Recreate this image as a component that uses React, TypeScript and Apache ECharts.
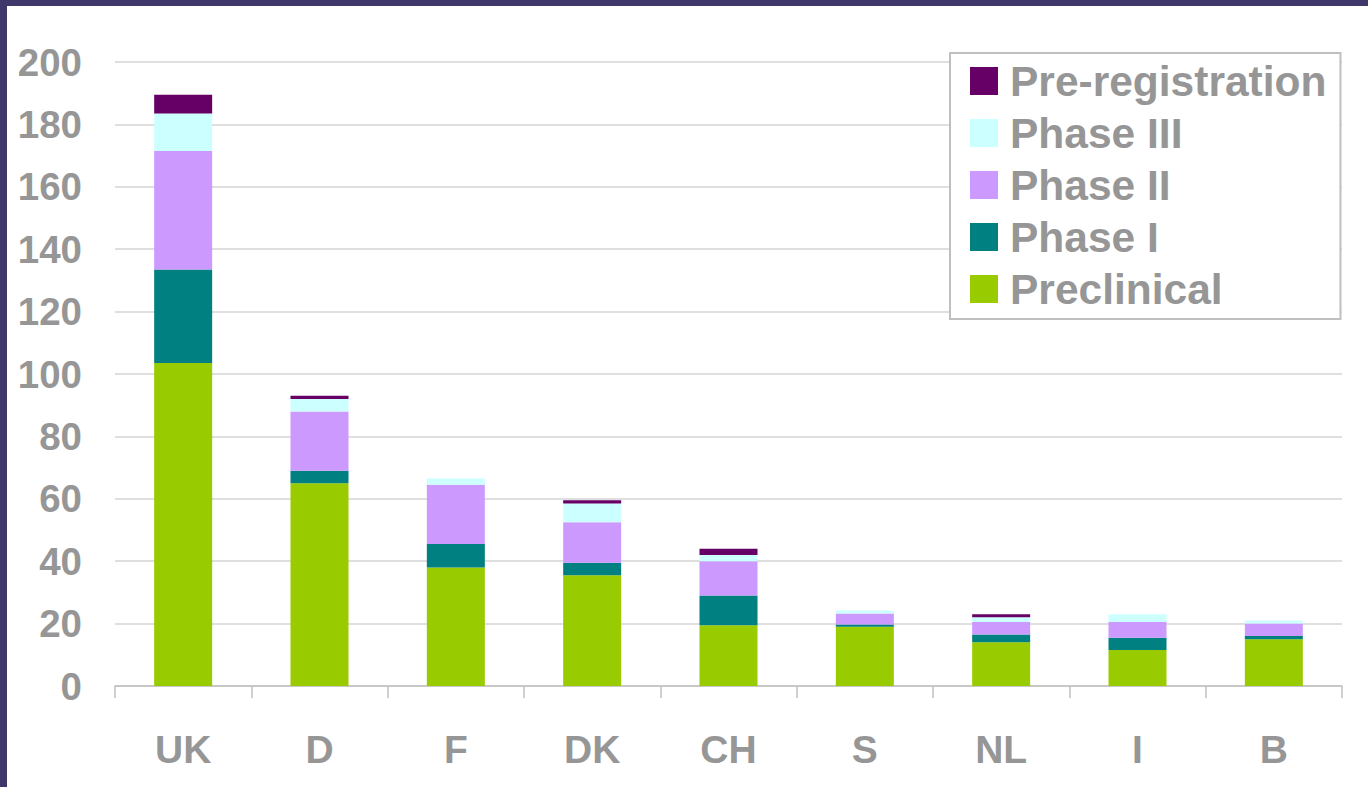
import React, { useEffect, useRef } from "react";
import * as echarts from "echarts";

const categories = ["UK", "D", "F", "DK", "CH", "S", "NL", "I", "B"];
const preclinical = [103.5, 65, 38, 35.5, 19.5, 19, 14, 11.5, 15];
const phaseI = [30, 4, 7.5, 4, 9.5, 0.7, 2.5, 4, 1];
const phaseII = [38, 19, 19, 13, 11, 3.5, 4, 5, 4];
const phaseIII = [12, 4, 2, 6, 2, 1, 1.5, 2.5, 1];
const preRegistration = [6, 1, 0, 1, 2, 0, 1, 0, 0];
const yTicks = { min: 0, max: 200, interval: 20 };

const FONT = "'Liberation Sans', Arial, sans-serif";
const GRAY = "#969696";

export default function App() {
  const ref = useRef<HTMLDivElement>(null);
  useEffect(() => {
    document.body.style.margin = "0";
    const chart = echarts.init(ref.current!, null, { renderer: "svg" });
    const mk = (name: string, data: number[], color: string) => ({
      name,
      type: "bar",
      stack: "total",
      data,
      barWidth: 58,
      itemStyle: { color },
    });
    chart.setOption({
      animation: false,
      backgroundColor: "#ffffff",
      grid: { left: 115, right: 26, top: 62, bottom: 101 },
      legend: {
        orient: "vertical",
        left: 950,
        top: 53,
        data: ["Pre-registration", "Phase III", "Phase II", "Phase I", "Preclinical"],
        itemWidth: 28,
        itemHeight: 28,
        itemGap: 8,
        padding: [6, 14, 8, 20],
        borderColor: "#bfbfbf",
        borderWidth: 2,
        backgroundColor: "#ffffff",
        icon: "rect",
        selectedMode: false,
        textStyle: {
          color: GRAY,
          fontFamily: FONT,
          fontWeight: "bold",
          fontSize: 42.5,
          lineHeight: 44,
          padding: [0, 0, 0, 7],
        },
      },
      xAxis: {
        type: "category",
        data: categories,
        axisLine: { lineStyle: { color: "#c0c0c0", width: 1.5 } },
        axisTick: { show: true, length: 12, interval: 0, lineStyle: { color: "#c0c0c0", width: 1.5 } },
        axisLabel: {
          color: GRAY,
          fontFamily: FONT,
          fontWeight: "bold",
          fontSize: 39,
          margin: 44,
          interval: 0,
        },
      },
      yAxis: {
        type: "value",
        min: yTicks.min,
        max: yTicks.max,
        interval: yTicks.interval,
        axisLine: { show: false },
        axisTick: { show: false },
        splitLine: { lineStyle: { color: "#d4d4d4", width: 1.5 } },
        axisLabel: {
          color: GRAY,
          fontFamily: FONT,
          fontWeight: "bold",
          fontSize: 38.5,
          margin: 33,
        },
      },
      series: [
        mk("Preclinical", preclinical, "#99cc00"),
        mk("Phase I", phaseI, "#008080"),
        mk("Phase II", phaseII, "#cc99ff"),
        mk("Phase III", phaseIII, "#ccffff"),
        mk("Pre-registration", preRegistration, "#660066"),
      ],
    });
    return () => chart.dispose();
  }, []);
  return (
    <div style={{ position: "relative", width: 1368, height: 787, background: "#fff", overflow: "hidden" }}>
      <div ref={ref} style={{ position: "absolute", left: 0, top: 0, width: 1368, height: 787 }} />
      <div style={{ position: "absolute", left: 0, top: 0, width: 7, height: 787, background: "#3f3669" }} />
      <div style={{ position: "absolute", left: 0, top: 0, width: 1368, height: 6, background: "#3f3669" }} />
    </div>
  );
}
